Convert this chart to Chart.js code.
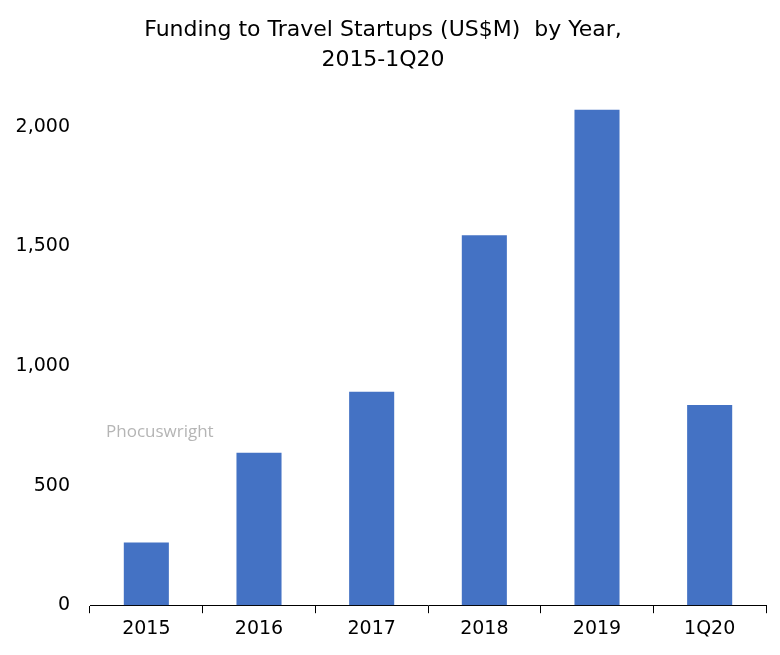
<!DOCTYPE html>
<html>
<head>
<meta charset="utf-8">
<script src="https://cdn.jsdelivr.net/npm/chart.js@4"></script>
<style>
  body { margin: 0; background: #fff; }
  #wrap { position: relative; width: 780px; height: 655px; }
  #mark { position: absolute; left: 106px; top: 419px; font: 17px "Open Sans", sans-serif; color: #b5b5b5; }
</style>
</head>
<body>
<div id="wrap">
  <canvas id="chart" width="780" height="655"></canvas>
  <div id="mark">Phocuswright</div>
</div>
<script>
  const categories = ['2015', '2016', '2017', '2018', '2019', '1Q20'];
  const funding = [262, 637, 892, 1546, 2071, 837];
  const yTicks = [0, 500, 1000, 1500, 2000];

  const font = "'DejaVu Sans', sans-serif";
  const ctx = document.getElementById('chart');

  new Chart(ctx, {
    type: 'bar',
    data: {
      labels: categories,
      datasets: [{
        label: 'Funding (US$M)',
        data: funding,
        backgroundColor: '#4472c4',
        categoryPercentage: 1,
        barPercentage: 0.4
      }]
    },
    options: {
      responsive: false,
      animation: false,
      layout: { padding: { left: 0, right: 14, top: 0, bottom: 11 } },
      plugins: {
        legend: { display: false },
        tooltip: { enabled: false },
        title: {
          display: true,
          text: ['Funding to Travel Startups (US$M)  by Year,', '2015-1Q20'],
          color: '#000',
          font: { family: font, size: 22, weight: 'normal', lineHeight: 1.36 },
          padding: { top: 15, bottom: 28 }
        }
      },
      scales: {
        x: {
          grid: { display: true, drawOnChartArea: false, tickLength: 8, color: '#000', offset: true },
          border: { color: '#000' },
          ticks: { color: '#000', font: { family: font, size: 19 }, padding: 4 }
        },
        y: {
          min: 0,
          max: 2100,
          afterBuildTicks: axis => { axis.ticks = yTicks.map(v => ({ value: v })); },
          afterFit: axis => { axis.width = 90; },
          grid: { display: false },
          border: { display: false },
          ticks: {
            color: '#000',
            font: { family: font, size: 19 },
            padding: 12,
            callback: v => v.toLocaleString('en-US')
          }
        }
      }
    }
  });
</script>
</body>
</html>
